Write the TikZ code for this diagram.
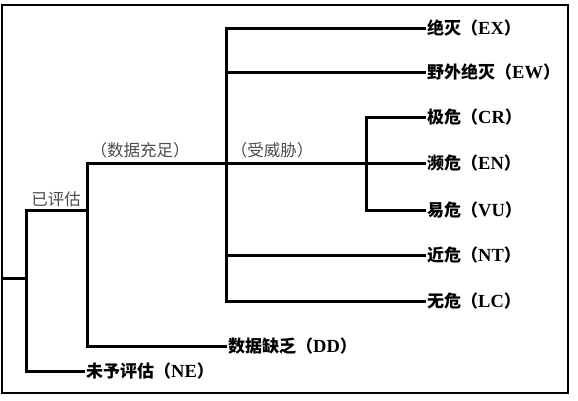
\documentclass[tikz,border=0pt]{standalone}
\usepackage{fontspec}
\newfontfamily\cjk{Noto Sans CJK SC}
\newfontfamily\lat{Liberation Serif}
\newcommand{\leaftext}[2]{{\cjk\bfseries #1（{\lat\bfseries\fontsize{18.5}{20}\selectfont #2}）}}
\begin{document}
\begin{tikzpicture}[x=1pt,y=-1pt,
  branch/.style={line width=3pt,line join=miter},
  leaf/.style={anchor=west,inner sep=1pt,font=\fontsize{17}{19}\selectfont},
  glabel/.style={inner sep=0pt,text=black!70,font=\cjk\fontsize{16.5}{18}\selectfont}]
\useasboundingbox (0,0) rectangle (578,400);
\draw[line width=2pt] (2,5) rectangle (568,393);
% leaves
\node[leaf] (EX) at (426,28) {\leaftext{绝灭}{EX}};
\node[leaf] (EW) at (426,72) {\leaftext{野外绝灭}{EW}};
\node[leaf] (CR) at (426,117) {\leaftext{极危}{CR}};
\node[leaf] (EN) at (426,163) {\leaftext{濒危}{EN}};
\node[leaf] (VU) at (426,210) {\leaftext{易危}{VU}};
\node[leaf] (NT) at (426,255) {\leaftext{近危}{NT}};
\node[leaf] (LC) at (426,301) {\leaftext{无危}{LC}};
\node[leaf] (DD) at (227,346) {\leaftext{数据缺乏}{DD}};
\node[leaf] (NE) at (85,371) {\leaftext{未予评估}{NE}};
% joints
\coordinate (r0) at (2,278);
\coordinate (r1) at (26,278);
\coordinate (a1) at (87,210);
\coordinate (s1) at (226,163);
\coordinate (c1) at (366,163);
% labels
\node[glabel] (lbA) at (56,199) {已评估};
\node[glabel] (lbS) at (140,150) {（数据充足）};
\node[glabel] (lbT) at (272,150) {（受威胁）};
% connectors
\draw[branch] (r0) -- (r1);
\draw[branch] (NE.west) -| (r1) |- (a1);
\draw[branch] (DD.west) -| (a1) |- (s1);
\draw[branch] (EX.west) -| (s1) |- (LC.west);
\draw[branch] (EW.west) -- (EW.west -| s1);
\draw[branch] (NT.west) -- (NT.west -| s1);
\draw[branch] (s1) -- (EN.west);
\draw[branch] (CR.west) -| (c1) |- (VU.west);
\end{tikzpicture}
\end{document}
